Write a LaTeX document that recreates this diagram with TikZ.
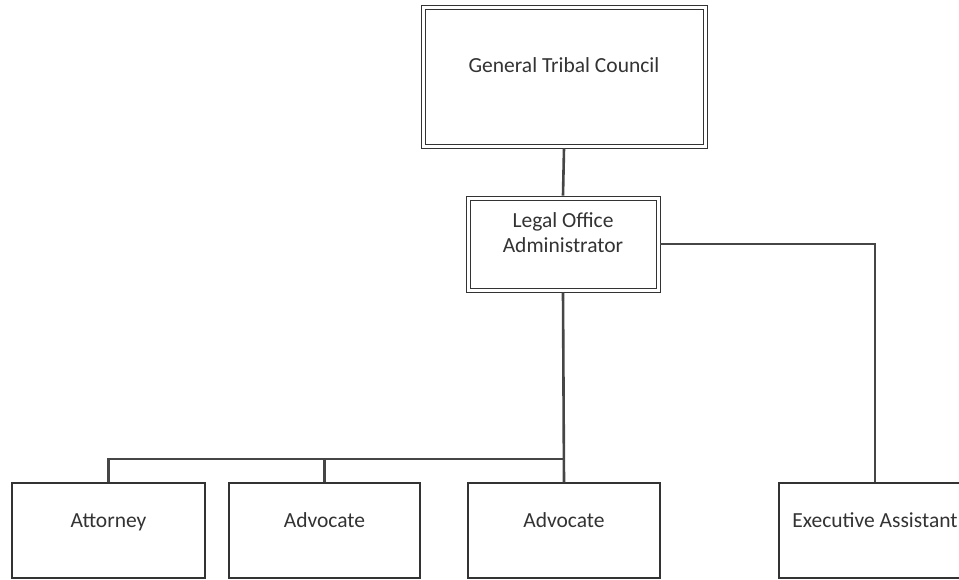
\documentclass[tikz,border=0pt]{standalone}
\usepackage{fontspec}
\setmainfont{Carlito}
\usetikzlibrary{positioning,calc}
\definecolor{ink}{RGB}{51,51,51}
\definecolor{wire}{RGB}{70,70,70}

\begin{document}
\begin{tikzpicture}[
  x=1pt, y=-1pt, font=\fontsize{21.5}{25}\selectfont, text=ink,
  office/.style={draw=ink, line width=0.9pt, align=center, inner sep=0pt,
    path picture={\draw[ink, line width=0.9pt]
      ([shift={(4pt,-4pt)}]path picture bounding box.north west) rectangle
      ([shift={(-4pt,4pt)}]path picture bounding box.south east);}},
  staff/.style={draw=ink, line width=1.1pt, align=center, inner sep=0pt, minimum width=192pt, minimum height=95pt, text height=14pt, text depth=21pt},
  conn/.style={draw=wire, line width=2.6pt},
]
\clip (0,0) rectangle (959,580);
\useasboundingbox (0,0) rectangle (959,580);
% ---------------------------------------------------------------- nodes
\node[office, minimum width=286pt, minimum height=143pt, text height=14pt, text depth=21pt] (gtc) at (564,76.5) {General Tribal Council};
\node[office, minimum width=194pt, minimum height=96pt, text depth=22pt] (loa) at (563,244) {Legal Office\\Administrator};

\node[staff, minimum width=193pt] (att)  at (108.5,530.5) {Attorney};
\node[staff, minimum width=191pt] (adv)  at (324.5,530.5) {Advocate};
\node[staff]                      (adv2) at (564,530.5)   {Advocate};
\node[staff]                      (exa)  at (875,530.5)   {Executive Assistant};

\coordinate (jn) at (564,459);

% ---------------------------------------------------------------- edges
\draw[conn] (gtc.south) -- (loa.north);
\draw[conn] (loa.east) -| (exa.north);
\draw[conn] (loa.south) -- (adv2.north);
\draw[conn] (att.north) |- (jn);
\draw[conn] (adv.north) -- (adv.north |- jn);
\end{tikzpicture}
\end{document}
